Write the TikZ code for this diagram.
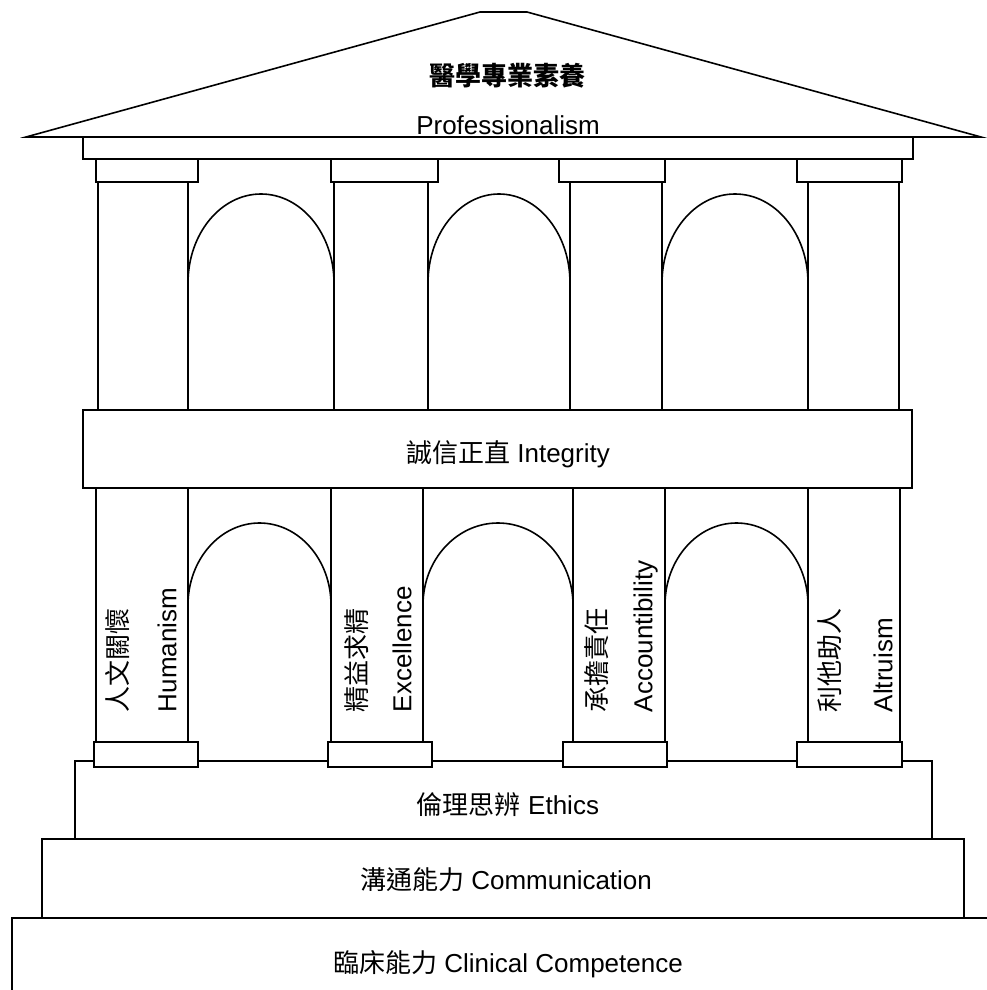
\documentclass[tikz,border=0pt]{standalone}
\usepackage{fontspec}
\setmainfont{Liberation Sans}
\newfontfamily\cjk{Noto Sans CJK TC}
\begin{document}
\begin{tikzpicture}[x=1pt,y=-1pt, line width=1.6pt, line join=miter,
  outl/.style={draw=black, fill=white},
  lbl/.style={inner sep=0pt, font=\fontsize{26}{30}\selectfont},
  vlat/.style={rotate=90, anchor=west, inner sep=0pt, text height=18.7pt, text depth=0pt, font=\fontsize{26}{30}\selectfont},
  vcjk/.style={rotate=90, anchor=west, inner sep=0pt, text height=22.9pt, text depth=3.1pt, font=\fontsize{26}{30}\selectfont\cjk}]
\useasboundingbox (0,0) rectangle (987,990);
% foundation steps
\draw (12,1000) -- (12,918) -- (1000,918);
\draw[outl] (42,918) rectangle (964,839);
\draw[outl] (75,839) rectangle (932,761);
% lower columns
\foreach \a/\b in {96/188, 331/423, 573/665, 808/900}
  \draw[outl] (\a,488) rectangle (\b,742);
% bases
\foreach \a/\b in {94/198, 328/432, 563/667, 797/902}
  \draw[outl] (\a,742) rectangle (\b,767);
% lower arches
\draw (188,605) arc[start angle=180, end angle=360, x radius=71.5, y radius=82];
\draw (423,605) arc[start angle=180, end angle=360, x radius=75, y radius=82];
\draw (665,605) arc[start angle=180, end angle=360, x radius=71.5, y radius=82];
% integrity band
\draw[outl] (83,410) rectangle (912,488);
% upper columns
\foreach \a/\b in {98/188, 334/428, 570/662, 808/899}
  \draw[outl] (\a,182) rectangle (\b,410);
% upper arches
\draw (188,283) arc[start angle=180, end angle=360, x radius=73, y radius=89];
\draw (428,283) arc[start angle=180, end angle=360, x radius=71, y radius=89];
\draw (662,283) arc[start angle=180, end angle=360, x radius=73, y radius=89];
% capitals
\foreach \a/\b in {96/198, 331/438, 559/665, 797/902}
  \draw[outl] (\a,159) rectangle (\b,182);
% frieze
\draw[outl] (83,137) rectangle (913,159);
% roof
\draw[outl] (26,137) -- (480,12) -- (527,12) -- (981,137) -- cycle;

% texts
\node[lbl, font=\fontsize{26}{30}\selectfont\cjk\bfseries] (tprofzh) at (507,76) {醫學專業素養};
\node[lbl, anchor=base] (tprofen) at (508,134) {Professionalism};
\node[lbl, anchor=base] (tinteg) at (508,462) {{\cjk 誠信正直} Integrity};
\node[lbl, anchor=base] (tethic) at (508,814) {{\cjk 倫理思辨} Ethics};
\node[lbl, anchor=base] (tcomm) at (506,889) {{\cjk 溝通能力} Communication};
\node[lbl, anchor=base] (tclin) at (508,972) {{\cjk 臨床能力} Clinical Competence};

\node[vcjk] (thumzh) at (118,713) {人文關懷};
\node[vlat] (thumen) at (167,713) {Humanism};
\node[vcjk] (texczh) at (357,713) {精益求精};
\node[vlat] (texcen) at (402,713) {Excellence};
\node[vcjk] (tacczh) at (597,713) {承擔責任};
\node[vlat] (taccen) at (643,713) {Accountibility};
\node[vcjk] (taltzh) at (830,713) {利他助人};
\node[vlat] (taltn) at (883,713) {Altruism};
\end{tikzpicture}
\end{document}
